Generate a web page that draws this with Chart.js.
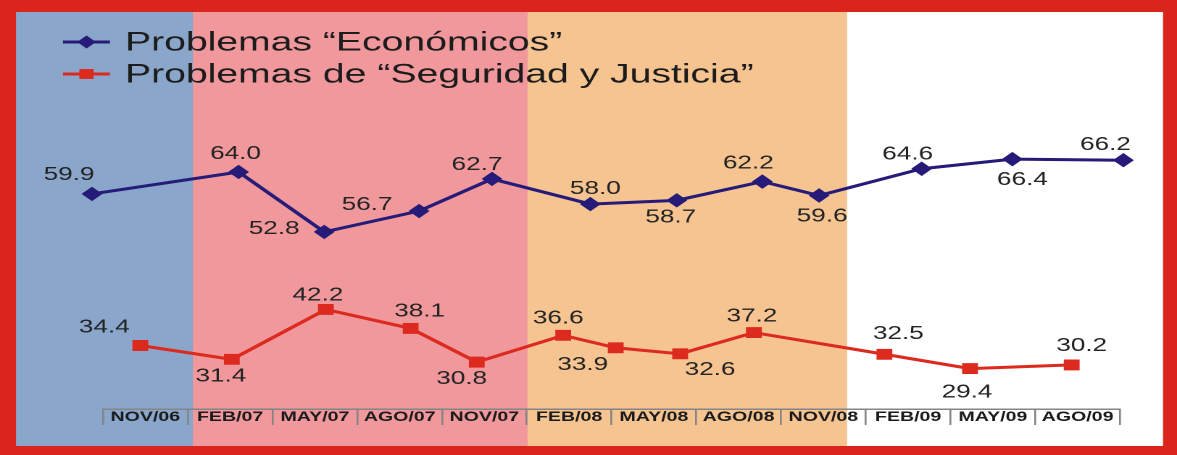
<!DOCTYPE html>
<html>
<head>
<meta charset="utf-8">
<title>Problemas económicos y de seguridad</title>
<script src="https://cdn.jsdelivr.net/npm/chart.js@4.4.1/dist/chart.umd.min.js"></script>
<style>
  html, body { margin: 0; padding: 0; background: #da251d; overflow: hidden; }
  /* the source picture is stretched sideways, so the canvas is stretched the same way */
  #wrap { position: relative; width: 812px; height: 455px; transform: scaleX(1.44951); transform-origin: 0 0; }
</style>
</head>
<body>
<div id="wrap"><canvas id="chart"></canvas></div>
<script>
const SX = 1177 / 812;
const FONT = "'Liberation Sans', Arial, sans-serif";

// survey periods (one slot each on the time axis)
const PERIODS = ['NOV/06', 'FEB/07', 'MAY/07', 'AGO/07', 'NOV/07', 'FEB/08',
  'MAY/08', 'AGO/08', 'NOV/08', 'FEB/09', 'MAY/09', 'AGO/09'];

// time position of each reading, in period slots
const ECON_X = [-0.13, 1.60, 2.61, 3.73, 4.59, 5.75, 6.77, 7.78, 8.45, 9.66, 10.73, 12.04];
const ECON = [59.9, 64.0, 52.8, 56.7, 62.7, 58.0, 58.7, 62.2, 59.6, 64.6, 66.4, 66.2];

const SEG_X = [0.44, 1.52, 2.63, 3.63, 4.41, 5.43, 6.05, 6.81, 7.68, 9.22, 10.23, 11.43];
const SEG = [34.4, 31.4, 42.2, 38.1, 30.8, 36.6, 33.9, 32.6, 37.2, 32.5, 29.4, 30.2];

// year changes on the time axis (2006 | 2007 | 2008 | 2009)
const YEAR_EDGES = [1.06, 5.01, 8.78];

const COLORS = {
  frame: '#da251d',
  econ: '#261b78',
  seg: '#dd2a1f',
  text: '#232323',
  axis: '#858585',
  years: ['#8aa6cb', '#f0989c', '#f5c491', '#ffffff']
};

// where each value label sits relative to its point (picture pixels)
const ECON_LABEL_OFF = [[-23, -19], [-3, -18], [-50, -3], [-52, -6], [-15, -14], [5, -15],
  [-6, 17], [-14, -18], [3, 21], [-14, -14], [10, 21], [-18, -15]];
const SEG_LABEL_OFF = [[-36, -18], [-11, 17], [-8, -14], [9, -17], [-15, 17], [-5, -17],
  [-33, 17], [30, 16], [-2, -16], [14, -20], [-3, 24], [10, -19]];

const toPoints = (xs, ys) => xs.map((x, i) => ({ x: x, y: ys[i] }));

function markerPath(ctx, style, x, y, r) {
  ctx.beginPath();
  if (style === 'rectRot') {
    ctx.moveTo(x, y - r);
    ctx.lineTo(x + r, y);
    ctx.lineTo(x, y + r);
    ctx.lineTo(x - r, y);
    ctx.closePath();
  } else {
    const h = r * Math.SQRT1_2;
    ctx.rect(x - h, y - h, 2 * h, 2 * h);
  }
}

// red frame + coloured year bands
const backdrop = {
  id: 'backdrop',
  beforeDraw(chart) {
    const { ctx, width, height } = chart;
    const xs = chart.scales.x;
    const top = 12, bottom = 446;
    ctx.save();
    ctx.fillStyle = COLORS.frame;
    ctx.fillRect(0, 0, width, height);
    const edges = [16 / SX, ...YEAR_EDGES.map(v => xs.getPixelForValue(v)), 1163 / SX];
    COLORS.years.forEach((c, i) => {
      ctx.fillStyle = c;
      ctx.fillRect(edges[i], top, edges[i + 1] - edges[i] + (i < 3 ? 0.5 : 0), bottom - top);
    });
    ctx.restore();
  },
  // the first reading sits left of the period table; let its marker be drawn
  beforeDatasetsDraw(chart) {
    this._area = chart.chartArea;
    chart.chartArea = Object.assign({}, this._area, { left: 0, right: chart.width });
  },
  afterDatasetsDraw(chart) {
    chart.chartArea = this._area;
  }
};

// value next to every point
const valueLabels = {
  id: 'valueLabels',
  afterDatasetsDraw(chart) {
    const { ctx } = chart;
    ctx.save();
    ctx.font = '18px ' + FONT;
    ctx.fillStyle = COLORS.text;
    ctx.textAlign = 'center';
    ctx.textBaseline = 'middle';
    chart.data.datasets.forEach((ds, i) => {
      chart.getDatasetMeta(i).data.forEach((pt, j) => {
        const off = ds.labelOffsets[j];
        ctx.fillText(ds.data[j].y.toFixed(1), pt.x + off[0] / SX, pt.y + off[1]);
      });
    });
    ctx.restore();
  }
};

// legend in the top-left corner, line + marker + text
const cornerLegend = {
  id: 'cornerLegend',
  afterDraw(chart) {
    const { ctx } = chart;
    ctx.save();
    ctx.font = '27px ' + FONT;
    ctx.textBaseline = 'middle';
    chart.data.datasets.forEach((ds, i) => {
      const y = 42 + i * 32;
      ctx.strokeStyle = ds.borderColor;
      ctx.lineWidth = 3;
      ctx.beginPath();
      ctx.moveTo(63 / SX, y);
      ctx.lineTo(110 / SX, y);
      ctx.stroke();
      ctx.fillStyle = ds.borderColor;
      markerPath(ctx, ds.pointStyle, 86.5 / SX, y, ds.pointRadius);
      ctx.fill();
      ctx.fillStyle = '#1c1c1c';
      ctx.fillText(ds.label, 125 / SX, y + 1);
    });
    ctx.restore();
  }
};

new Chart(document.getElementById('chart'), {
  type: 'line',
  data: {
    datasets: [{
      label: 'Problemas “Económicos”',
      data: toPoints(ECON_X, ECON),
      yAxisID: 'yE',
      borderColor: COLORS.econ,
      backgroundColor: COLORS.econ,
      borderWidth: 3,
      pointStyle: 'rectRot',
      pointRadius: 6.5,
      pointBorderWidth: 1,
      tension: 0,
      clip: false,
      labelOffsets: ECON_LABEL_OFF
    }, {
      label: 'Problemas de “Seguridad y Justicia”',
      data: toPoints(SEG_X, SEG),
      yAxisID: 'yS',
      borderColor: COLORS.seg,
      backgroundColor: COLORS.seg,
      borderWidth: 3,
      pointStyle: 'rect',
      pointRadius: 7,
      pointBorderWidth: 1,
      tension: 0,
      clip: false,
      labelOffsets: SEG_LABEL_OFF
    }]
  },
  options: {
    responsive: true,
    maintainAspectRatio: false,
    animation: false,
    devicePixelRatio: 2,
    layout: { padding: { left: 103 / SX, right: 812 - 1120 / SX, top: 12, bottom: 9 } },
    plugins: {
      legend: { display: false },
      tooltip: { enabled: false }
    },
    scales: {
      x: { type: 'linear', min: 0, max: 12, display: false },
      periods: {
        type: 'category',
        labels: PERIODS,
        position: 'bottom',
        offset: true,
        grid: { offset: true, drawOnChartArea: false, drawTicks: true, tickLength: 16, color: COLORS.axis, lineWidth: 1.3 },
        border: { display: true, color: COLORS.axis, width: 1.5 },
        ticks: {
          color: '#1a1a1a',
          font: { family: FONT, size: 13.5, weight: 'bold' },
          padding: -15.6,
          maxRotation: 0,
          autoSkip: false
        },
        afterFit(scale) { scale.height = 37; }
      },
      yE: { display: false, min: 19.7, max: 93.9 },
      yS: { display: false, min: 20.65, max: 106.6 }
    }
  },
  plugins: [backdrop, valueLabels, cornerLegend]
});
</script>
</body>
</html>
